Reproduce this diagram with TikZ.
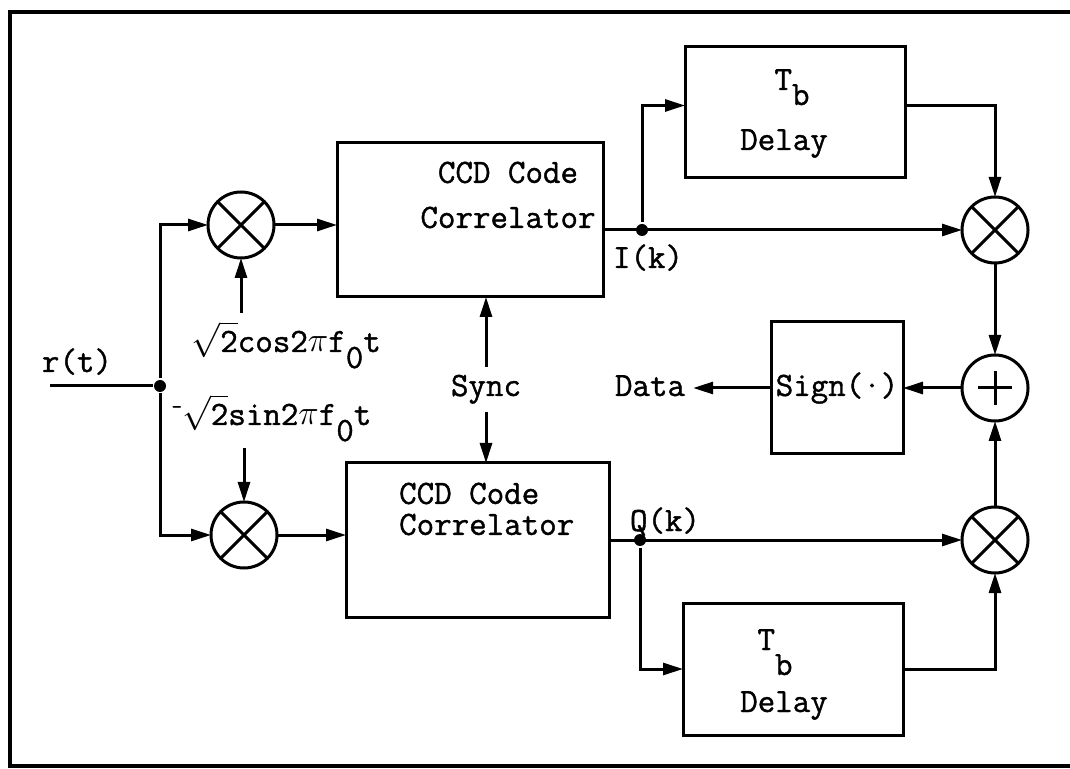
\documentclass[tikz,border=0pt]{standalone}
\usepackage{fontspec}
\setmonofont[FakeBold=1.2]{Latin Modern Mono}
\usetikzlibrary{arrows.meta}

\begin{document}
\begin{tikzpicture}[x=0.5pt, y=-0.5pt, line width=1.5pt,
  >={Triangle[length=10pt,width=6pt]},
  every node/.style={font=\ttfamily\fontsize{17}{15.5}\selectfont},
  blk/.style={draw, inner sep=0pt, outer sep=0pt},
  mult/.style={draw, circle, minimum size=33pt, inner sep=0pt, outer sep=0pt},
  jdot/.style={circle, fill, inner sep=0pt, minimum size=6pt}]
  \useasboundingbox (0,0) rectangle (1070,769);
  \draw[line width=2pt] (1070,12) -- (10,12) -- (10,766) -- (1070,766);

  % correlators
  \node[blk, minimum width=133pt, minimum height=77pt] (ccdI) at (470,220) {};
  \node[align=center] (txI) at (508,195) {CCD Code\\[7pt]Correlator};
  \node[blk, minimum width=131.5pt, minimum height=77pt] (ccdQ) at (477.5,540) {};
  \node[anchor=west, align=left] (txQ) at (391,509) {CCD Code\\Correlator};

  % delays and sign
  \node[blk, minimum width=110pt, minimum height=65.5pt] (dlyI) at (795,112.5) {};
  \node[anchor=base west, inner sep=0pt] (tbI) at (773,90) {T\raisebox{-7.5pt}{b}};
  \node[anchor=base] (dlI) at (784,150) {Delay};
  \node[blk, minimum width=110pt, minimum height=66pt] (dlyQ) at (793,669) {};
  \node[anchor=base west, inner sep=0pt] (tbQ) at (756,650) {T\raisebox{-12.5pt}{b}};
  \node[anchor=base] (dlQ) at (784,712) {Delay};
  \node[blk, minimum size=66pt] (sign) at (837,388) {Sign(·)};

  % multipliers and summer
  \node[mult] (mA) at (241,225) {};
  \node[mult] (mB) at (244,535) {};
  \node[mult] (mC) at (995,230) {};
  \node[mult] (mD) at (995,540) {};
  \foreach \m in {mA,mB,mC,mD}
    \draw (\m.north east) -- (\m.south west) (\m.north west) -- (\m.south east);
  \node[mult] (sum) at (995,388) {};
  \draw (sum.center) ++(-17,0) -- ++(34,0) (sum.center) ++(0,-17) -- ++(0,34);

  % input side
  \coordinate (rin) at (50,386);
  \node[jdot] (j0) at (160,386) {};
  \node[anchor=base] (rlbl) at (77,372) {r(t)};
  \draw (rin) -- (j0);
  \draw[->] (j0) |- (mA);
  \draw[->] (j0) |- (mB);
  \coordinate (loA) at (241,313);
  \coordinate (loB) at (244,448);
  \draw[->] (loA) -- (mA);
  \draw[->] (loB) -- (mB);
  \node[anchor=base west, inner sep=0pt] (cosl) at (190,352)
    {$\sqrt{\hbox{2}}$cos2$\pi$f\raisebox{-8pt}{0}t};
  \node[anchor=base west, inner sep=0pt] (sinl) at (170,425)
    {\raisebox{6pt}{\fontsize{10}{10}\selectfont-}$\sqrt{\hbox{2}}$sin2$\pi$f\raisebox{-8pt}{0}t};
  \draw[->] (mA) -- (mA -| ccdI.west);
  \draw[->] (mB) -- (mB -| ccdQ.west);

  % sync
  \node[anchor=base] (sync) at (486,396) {Sync};
  \draw[->] (sync) -- (sync |- ccdI.south);
  \draw[->] (sync) -- (sync |- ccdQ.north);

  % I branch
  \node[jdot] (jI) at (642,230) {};
  \node[anchor=base] (ilbl) at (648,268) {I(k)};
  \draw[->] (ccdI.east |- mC) -- (mC);
  \draw[->] (jI) |- ([yshift=3.5pt]dlyI.west);
  \draw[->] ([yshift=3.5pt]dlyI.east) -| (mC);

  % Q branch
  \node[jdot] (jQ) at (640,540) {};
  \node[anchor=base] (qlbl) at (665,531) {Q(k)};
  \draw[->] (ccdQ.east |- mD) -- (mD);
  \draw[->] (jQ) |- (dlyQ.west);
  \draw[->] (dlyQ.east) -| (mD);

  % output
  \draw[->] (mC) -- (sum);
  \draw[->] (mD) -- (sum);
  \draw[->] (sum) -- (sign);
  \node[anchor=base] (data) at (650,396) {Data};
  \draw[->] (sign) -- (sign.west -| data.east);
\end{tikzpicture}
\end{document}
